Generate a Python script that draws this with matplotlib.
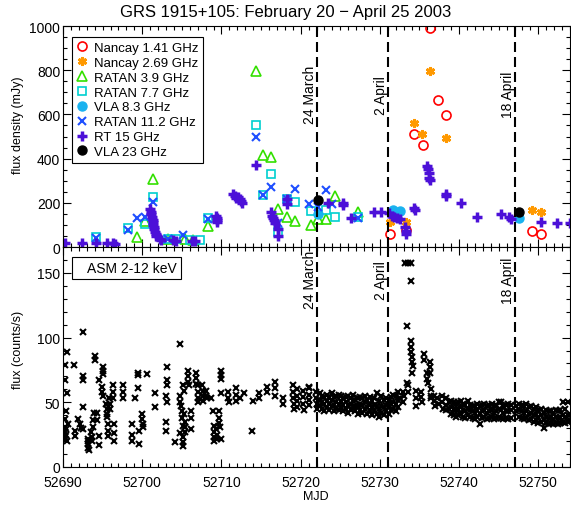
import matplotlib.pyplot as plt
from matplotlib.lines import Line2D
from matplotlib.ticker import MultipleLocator

plt.rcParams['font.family'] = ['Liberation Sans', 'DejaVu Sans']

# radio fluxes (MJD, mJy)
n141_mjd = [52731.3, 52733.3, 52734.3, 52735.4, 52736.3, 52737.4, 52738.3, 52749.2, 52750.3]
n141_flux = [59, 78, 511, 461, 991, 665, 599, 74, 59]

n269_mjd = [52731.3, 52733.3, 52734.3, 52735.3, 52736.3, 52738.3, 52749.2, 52750.3]
n269_flux = [114, 112, 560, 511, 798, 492, 169, 160]

r39_mjd = [52699.3, 52700.3, 52701.4, 52703.3, 52705.4, 52706.4, 52708.3, 52714.4, 52715.3,
           52716.2, 52717.2, 52718.3, 52719.3, 52721.3, 52722.2, 52723.2, 52724.3, 52727.2]
r39_flux = [45, 119, 308, 34, 36, 30, 97, 796, 417, 409, 171, 138, 119, 99, 127, 127, 232, 160]

r77_mjd = [52694.2, 52698.2, 52700.3, 52701.4, 52703.3, 52704.3, 52706.0, 52707.3, 52708.3, 52714.3,
           52715.2, 52716.2, 52717.2, 52718.3, 52719.3, 52721.3, 52723.2, 52724.3, 52727.2]
r77_flux = [45, 85, 104, 228, 36, 36, 32, 32, 130, 552, 237, 330, 66, 217, 205, 162, 169, 137, 137]

vla83_mjd = [52722.2, 52731.6, 52732.6, 52747.6]
vla83_flux = [149, 169, 165, 132]

r112_mjd = [52694.2, 52698.2, 52699.3, 52700.3, 52701.4, 52703.3, 52705.2, 52708.3, 52714.3, 52715.2,
            52716.2, 52717.2, 52718.3, 52719.3, 52721.1, 52722.2, 52723.2, 52724.0, 52727.2]
r112_flux = [42, 77, 132, 135, 203, 36, 55, 127, 496, 237, 270, 108, 217, 263, 195, 179, 259, 195, 130]

rt15_mjd = [52690.3, 52692.4, 52694.2, 52695.5, 52696.3, 52696.6,
            52701.0, 52701.1, 52701.1, 52701.2, 52701.3, 52701.3, 52701.4, 52701.5, 52701.5, 52701.6,
            52701.7, 52701.8, 52702.2, 52702.4, 52703.9, 52704.3, 52706.3, 52706.6,
            52709.3, 52709.4, 52709.5, 52709.4, 52711.5, 52711.7, 52711.9, 52712.3, 52712.5, 52712.6,
            52712.1, 52714.4, 52716.3, 52716.4, 52716.5, 52716.6, 52716.7, 52717.2, 52717.2,
            52718.3, 52718.3, 52723.4, 52725.3, 52725.4, 52726.4, 52729.3, 52730.1, 52731.2, 52731.5,
            52731.8, 52732.2, 52732.5, 52733.2, 52733.3, 52733.3, 52734.3, 52734.4,
            52736.0, 52736.1, 52736.2, 52736.2, 52736.3, 52738.3, 52738.4, 52740.3, 52742.3,
            52745.3, 52746.3, 52746.6, 52750.3, 52752.3, 52754.0]
rt15_flux = [18, 18, 16, 16, 16, 14,
             170, 158, 148, 136, 124, 112, 100, 90, 80, 70,
             60, 50, 36, 30, 30, 28, 26, 26,
             139, 130, 115, 120, 241, 232, 222, 217, 207, 198,
             227, 373, 159, 139, 130, 120, 110, 81, 52,
             217, 193, 200, 198, 188, 130, 160, 160, 154, 139,
             134, 130, 125, 91, 71, 57, 178, 169,
             368, 353, 334, 314, 305, 241, 232, 198, 134,
             149, 134, 125, 115, 108, 108]

vla23_mjd = [52722.2, 52747.6]
vla23_flux = [212, 157]

# RXTE/ASM 2-12 keV rates (MJD, counts/s)
asm_a_mjd = [52690.2, 52690.2, 52690.3, 52690.3, 52690.3, 52690.3, 52690.3, 52690.4, 52690.4, 52690.4,
             52690.5, 52690.5, 52690.5, 52690.6, 52691.4, 52691.5, 52691.5, 52691.9, 52692.1, 52692.3,
             52692.5, 52692.5, 52692.5, 52692.5, 52692.5, 52693.1, 52693.1, 52693.2, 52693.2, 52693.3,
             52693.5, 52693.6, 52693.7, 52693.8, 52693.8, 52693.9, 52694.0, 52694.0, 52694.3, 52694.3,
             52694.6, 52694.6, 52694.6, 52694.9, 52694.9, 52695.0, 52695.1, 52695.1, 52695.1, 52695.4,
             52695.5, 52695.5, 52695.6, 52695.7, 52695.7, 52695.7, 52695.8, 52695.9, 52695.9, 52696.3,
             52696.3, 52696.3, 52696.5, 52696.5, 52696.5, 52697.6, 52697.6, 52697.6, 52698.7, 52698.7,
             52698.7, 52699.1, 52699.5, 52699.5, 52699.5, 52699.6, 52699.6, 52700.0, 52700.0, 52700.1,
             52700.1, 52700.6, 52701.6, 52701.6, 52703.1, 52703.1, 52703.1, 52703.1, 52703.0, 52703.0,
             52703.0, 52704.1, 52704.8, 52704.8, 52704.8, 52704.8, 52704.9, 52705.0, 52705.0, 52705.1,
             52705.2, 52705.2, 52705.2, 52705.2, 52705.3, 52705.3, 52705.4, 52705.4, 52705.4, 52705.8,
             52705.8, 52705.8, 52705.9, 52706.2, 52706.2, 52706.2, 52706.8, 52706.8, 52706.8, 52707.0,
             52707.0, 52707.0, 52707.1, 52707.6, 52707.7, 52707.7, 52707.7, 52708.1, 52708.1, 52708.2,
             52708.7, 52708.9, 52709.0, 52709.0, 52709.0, 52709.0, 52709.3, 52709.4, 52709.4, 52709.7,
             52709.7, 52709.7, 52709.8, 52710.0, 52710.0, 52710.0, 52710.0, 52710.0, 52710.8, 52710.8,
             52710.9, 52711.9, 52711.9, 52711.9, 52712.3, 52712.9, 52713.8, 52714.0, 52714.7, 52714.7,
             52715.7, 52715.7, 52716.7, 52716.7, 52716.7, 52717.8, 52717.8, 52719.0, 52719.0, 52719.0,
             52719.1, 52719.1, 52719.6, 52719.6, 52719.6, 52719.6, 52720.3, 52720.3, 52720.3, 52720.4,
             52721.0, 52721.0, 52721.0, 52721.1, 52721.1, 52721.9, 52721.9, 52722.0, 52722.0]
asm_a_rate = [23, 27, 31, 22, 37, 67, 79, 25, 29, 43,
              57, 89, 20, 33, 79, 28, 24, 37, 33, 30,
              29, 104, 70, 67, 46, 22, 20, 18, 15, 13,
              27, 23, 20, 31, 36, 42, 86, 83, 42, 36,
              67, 24, 17, 62, 58, 55, 77, 74, 72, 49,
              45, 41, 39, 33, 28, 24, 53, 49, 45, 63,
              58, 53, 33, 26, 20, 63, 58, 53, 33, 25,
              20, 53, 73, 71, 61, 28, 18, 41, 37, 33,
              31, 72, 57, 46, 77, 67, 63, 50, 55, 35,
              28, 19, 95, 55, 50, 26, 47, 43, 38, 32,
              23, 19, 16, 63, 59, 41, 35, 31, 27, 74,
              70, 66, 63, 29, 43, 38, 73, 69, 64, 63,
              58, 53, 50, 63, 59, 55, 51, 59, 55, 53,
              53, 43, 32, 27, 23, 20, 29, 25, 22, 43,
              38, 34, 31, 74, 71, 68, 57, 22, 58, 53,
              50, 61, 56, 51, 53, 57, 28, 51, 57, 53,
              62, 58, 66, 61, 55, 53, 49, 63, 58, 53,
              49, 45, 60, 55, 51, 46, 59, 54, 49, 44,
              61, 56, 52, 48, 62, 58, 53, 49, 45]

asm_b_mjd = [52722.4, 52722.4, 52722.4, 52722.7, 52722.7, 52722.7, 52723.0, 52723.0, 52723.0,
             52723.3, 52723.3, 52723.3, 52723.6, 52723.6, 52723.6, 52723.9, 52723.9, 52723.9,
             52724.2, 52724.2, 52724.2, 52724.5, 52724.5, 52724.5, 52724.8, 52724.8, 52724.8,
             52725.1, 52725.1, 52725.1, 52725.4, 52725.4, 52725.4, 52725.7, 52725.7, 52725.7,
             52726.0, 52726.0, 52726.0, 52726.3, 52726.3, 52726.3, 52726.6, 52726.6, 52726.6,
             52726.9, 52726.9, 52726.9, 52727.2, 52727.2, 52727.2, 52727.5, 52727.5, 52727.5,
             52727.8, 52727.8, 52727.8, 52728.1, 52728.1, 52728.1, 52728.4, 52728.4, 52728.4,
             52728.7, 52728.7, 52728.7, 52729.0, 52729.0, 52729.0, 52729.3, 52729.3, 52729.3,
             52729.6, 52729.6, 52729.6, 52729.9, 52729.9, 52729.9, 52730.2, 52730.2, 52730.2,
             52730.5, 52730.5, 52730.5, 52730.8, 52730.8, 52730.8, 52731.1, 52731.1, 52731.1,
             52731.4, 52731.4, 52731.4, 52731.7, 52731.7, 52731.7, 52732.0, 52732.0, 52732.0,
             52732.3, 52732.3, 52732.3]
asm_b_rate = [47, 52, 57, 45, 50, 55, 43, 49, 54,
              46, 51, 56, 44, 49, 53, 47, 52, 57,
              43, 48, 54, 45, 50, 55, 44, 49, 56,
              46, 51, 55, 43, 48, 53, 45, 50, 54,
              42, 48, 55, 44, 49, 53, 46, 51, 56,
              43, 47, 52, 41, 47, 53, 44, 49, 54,
              42, 48, 53, 45, 50, 55, 41, 46, 52,
              43, 48, 54, 40, 46, 51, 43, 48, 53,
              41, 47, 57, 39, 45, 51, 42, 47, 55,
              40, 46, 52, 43, 48, 53, 41, 47, 52,
              44, 49, 54, 45, 50, 56, 43, 49, 55,
              46, 52, 58]

asm_c_mjd = [52732.6, 52732.9, 52732.9, 52733.0, 52733.4, 52733.2, 52733.6, 52733.9, 52733.9,
             52733.5, 52733.5, 52733.4, 52733.9, 52733.9, 52733.9, 52734.1, 52734.1, 52734.0, 52734.2,
             52734.5, 52734.5, 52734.6, 52735.2, 52735.2, 52735.3, 52735.6, 52735.6,
             52736.0, 52736.0, 52736.1, 52736.3, 52736.3, 52736.3, 52736.4, 52736.4, 52736.5,
             52736.8, 52736.8, 52736.9, 52737.2, 52737.5, 52737.9, 52737.9, 52738.0,
             52738.3, 52738.3, 52738.4, 52738.7, 52738.7]
asm_c_rate = [53, 58, 50, 55, 109, 158, 158, 158, 144,
              63, 58, 65, 97, 93, 89, 85, 81, 73, 78,
              59, 53, 47, 58, 54, 50, 87, 83,
              73, 68, 65, 81, 77, 73, 60, 55, 53,
              55, 51, 47, 53, 49, 55, 50, 45,
              53, 48, 44, 50, 45]

asm_d_mjd = [52739.0, 52739.0, 52739.0, 52739.3, 52739.3, 52739.3, 52739.6, 52739.6, 52739.6,
             52739.9, 52739.9, 52739.9, 52740.2, 52740.2, 52740.2, 52740.5, 52740.5, 52740.5,
             52740.8, 52740.8, 52740.8, 52741.1, 52741.1, 52741.1, 52741.4, 52741.4, 52741.4,
             52741.7, 52741.7, 52741.7, 52742.0, 52742.0, 52742.0, 52742.3, 52742.3, 52742.3,
             52742.6, 52742.6, 52742.6, 52742.9, 52742.9, 52742.9, 52743.2, 52743.2, 52743.2,
             52743.5, 52743.5, 52743.5, 52743.8, 52743.8, 52743.8, 52744.1, 52744.1, 52744.1,
             52744.4, 52744.4, 52744.4, 52744.7, 52744.7, 52744.7, 52745.0, 52745.0, 52745.0,
             52745.3, 52745.3, 52745.3, 52745.6, 52745.6, 52745.6, 52745.9, 52745.9, 52745.9,
             52746.2, 52746.2, 52746.2, 52746.5, 52746.5, 52746.5, 52747.2, 52747.2,
             52747.6, 52747.6, 52747.6, 52747.9, 52747.9, 52747.9, 52748.2, 52748.2, 52748.2,
             52748.5, 52748.5, 52748.5, 52748.8, 52748.8, 52748.8, 52749.1, 52749.1, 52749.1,
             52749.4, 52749.4, 52749.4, 52749.7, 52749.7, 52749.7, 52750.0, 52750.0, 52750.0,
             52750.3, 52750.3, 52750.3, 52750.7, 52750.7, 52750.7, 52751.0, 52751.0, 52751.0,
             52751.3, 52751.3, 52751.3, 52751.6, 52751.6, 52751.6, 52751.9, 52751.9, 52751.9,
             52752.2, 52752.2, 52752.2, 52752.5, 52752.5, 52752.5, 52752.8, 52752.8, 52752.8,
             52753.1, 52753.1, 52753.1, 52753.4, 52753.4, 52753.4, 52753.7, 52753.7, 52753.7,
             52754.0, 52754.0]
asm_d_rate = [41, 46, 51, 40, 45, 50, 39, 44, 49,
              40, 45, 50, 41, 46, 51, 39, 44, 49,
              38, 43, 48, 40, 45, 51, 39, 44, 48,
              38, 43, 47, 37, 42, 47, 39, 44, 49,
              33, 41, 47, 38, 43, 48, 39, 44, 49,
              37, 42, 47, 38, 43, 48, 39, 44, 49,
              37, 42, 47, 38, 43, 48, 39, 45, 50,
              38, 44, 50, 37, 42, 47, 38, 43, 48,
              37, 43, 49, 38, 44, 48, 43, 47,
              39, 44, 49, 38, 43, 48, 37, 42, 47,
              38, 43, 49, 36, 41, 46, 37, 42, 47,
              35, 40, 45, 36, 41, 46, 34, 39, 44,
              35, 40, 45, 30, 36, 42, 34, 39, 44,
              33, 38, 43, 34, 39, 43, 33, 37, 42,
              34, 39, 44, 33, 38, 43, 34, 39, 44,
              35, 40, 50, 34, 39, 45, 35, 40, 50,
              36, 41]

events = [52722, 52731, 52747]
event_labels = ['24 March', '2 April', '18 April']

fig = plt.figure(figsize=(5.71, 5.06), dpi=100)
ax1 = fig.add_axes([63 / 571, 1 - 248 / 506, 507 / 571, 221 / 506])
ax2 = fig.add_axes([63 / 571, 1 - 468 / 506, 507 / 571, 220 / 506])

series = [
    (n141_mjd, n141_flux, 'Nancay 1.41 GHz', dict(marker='o', color='#ff0000', mfc='none', ms=6.5, mew=1.2)),
    (n269_mjd, n269_flux, 'Nancay 2.69 GHz', dict(marker=(6, 2, 0), color='#ff9900', ms=6.5, mew=2)),
    (r39_mjd, r39_flux, 'RATAN 3.9 GHz', dict(marker='^', color='#33e000', mfc='none', ms=7, mew=1.2)),
    (r77_mjd, r77_flux, 'RATAN 7.7 GHz', dict(marker='s', color='#00d0d0', mfc='none', ms=6, mew=1.2)),
    (vla83_mjd, vla83_flux, 'VLA 8.3 GHz', dict(marker='o', color='#1ab2ef', ms=6.5)),
    (r112_mjd, r112_flux, 'RATAN 11.2 GHz', dict(marker='x', color='#1f4fff', ms=6, mew=1.5)),
    (rt15_mjd, rt15_flux, 'RT 15 GHz', dict(marker='+', color='#4c10d8', ms=6.5, mew=2.5)),
    (vla23_mjd, vla23_flux, 'VLA 23 GHz', dict(marker='o', color='black', ms=6.5)),
]

for mjd, flux, name, style in series:
    ax1.plot(mjd, flux, linestyle='none', label=name, **style)

leg = ax1.legend(loc='upper left', bbox_to_anchor=(0.018, 0.95), borderaxespad=0, fancybox=False,
                 edgecolor='black', framealpha=1, fontsize=9.5, handlelength=0.8, handletextpad=0.5,
                 labelspacing=0.2, borderpad=0.35, numpoints=1)
leg.get_frame().set_linewidth(0.8)

for asm_mjd, asm_rate in [(asm_a_mjd, asm_a_rate), (asm_b_mjd, asm_b_rate),
                          (asm_c_mjd, asm_c_rate), (asm_d_mjd, asm_d_rate)]:
    ax2.plot(asm_mjd, asm_rate, linestyle='none', marker='x', color='black', ms=3.8, mew=1.5)

asm_handle = Line2D([], [], linestyle='none', marker='none')
leg2 = ax2.legend([asm_handle], ['ASM 2-12 keV'], loc='upper left', bbox_to_anchor=(0.018, 0.955),
                  borderaxespad=0, fancybox=False, edgecolor='black', framealpha=1, fontsize=10,
                  handlelength=0.6, handletextpad=0.2, borderpad=0.3)
leg2.get_frame().set_linewidth(0.8)

# dashed lines for the dates, labels sit just left of the line
for ax, ylab in [(ax1, 692), (ax2, 145)]:
    for x, lab in zip(events, event_labels):
        ax.axvline(x, color='black', linestyle=(0, (4.8, 2.4)), linewidth=1.5)
        ax.text(x - 0.8, ylab, lab, rotation=90, ha='center', va='center', fontsize=10)

ax1.set_ylim(0, 1000)
ax2.set_ylim(0, 170)
for ax in [ax1, ax2]:
    ax.set_xlim(52690, 52754)
    ax.xaxis.set_major_locator(MultipleLocator(10))
    ax.xaxis.set_minor_locator(MultipleLocator(1))
    ax.tick_params(which='both', direction='in', top=True, right=True, labelsize=10, pad=2)
    ax.tick_params(which='major', length=6, width=0.8)
    ax.tick_params(which='minor', length=3, width=0.8)
    for sp in ax.spines.values():
        sp.set_linewidth(0.8)

ax1.yaxis.set_major_locator(MultipleLocator(200))
ax1.yaxis.set_minor_locator(MultipleLocator(50))
ax1.set_xticklabels([])
ax2.yaxis.set_major_locator(MultipleLocator(50))
ax2.yaxis.set_minor_locator(MultipleLocator(10))
ax2.tick_params(axis='x', pad=6)

fig.text(0.5, 1 - 12 / 506, 'GRS 1915+105: February 20 \u2212 April 25 2003', ha='center', va='center', fontsize=12)
fig.text(18 / 571, 1 - 125 / 506, 'flux density (mJy)', rotation=90, ha='center', va='center', fontsize=9)
fig.text(18 / 571, 1 - 350 / 506, 'flux (counts/s)', rotation=90, ha='center', va='center', fontsize=9)
fig.text(316 / 571, 1 - 497 / 506, 'MJD', ha='center', va='center', fontsize=9)

plt.savefig('out.png', dpi=100)
